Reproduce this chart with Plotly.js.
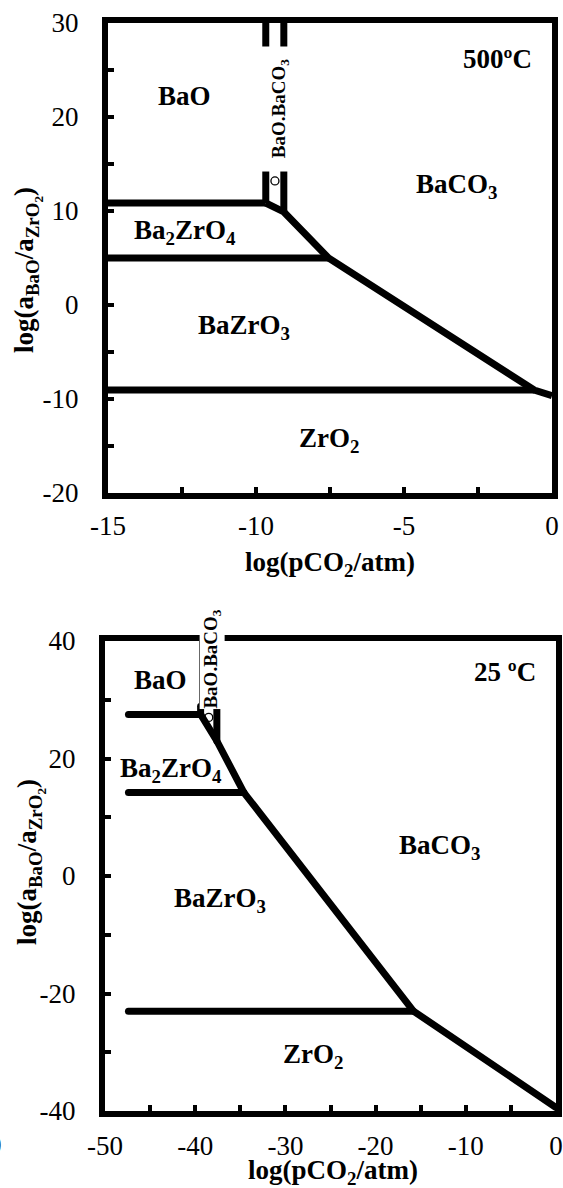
<!DOCTYPE html>
<html>
<head>
<meta charset="utf-8">
<script src="https://cdn.plot.ly/plotly-3.0.1.min.js"></script>
<style>
html,body{margin:0;padding:0;background:#fff}
/* rounded ends on the 25 °C boundary lines */
#chart .subplot.x2y2 .js-line{stroke-linecap:round !important}
</style>
</head>
<body>
<div id="chart" style="width:563px;height:1188px"></div>
<script>
// ----- 500 °C stability diagram: x = log(pCO2/atm), y = log(aBaO/aZrO2) -----
const hotBaOBa2ZrO4X = [-15, -9.67];
const hotBaOBa2ZrO4Y = [10.85, 10.85];
const hotCarbonateX = [-9.67, -9.06, -7.55, -0.6, 0];
const hotCarbonateY = [10.85, 9.9, 5.0, -9.05, -9.65];
const hotBa2ZrO4BaZrO3X = [-15, -7.55];
const hotBa2ZrO4BaZrO3Y = [5, 5];
const hotBaZrO3ZrO2X = [-15, -0.6];
const hotBaZrO3ZrO2Y = [-9.05, -9.05];
const hotDoubleSaltLeftX = [-9.67, -9.67, null, -9.67, -9.67];
const hotDoubleSaltLeftY = [30, 27.5, null, 14.2, 10.85];
const hotDoubleSaltRightX = [-9.06, -9.06, null, -9.06, -9.06];
const hotDoubleSaltRightY = [30, 27.5, null, 14.2, 9.9];
const hotPointX = [-9.36];
const hotPointY = [13.2];

const hotLabels = ['BaO', 'Ba<sub>2</sub>ZrO<sub>4</sub>', 'BaZrO<sub>3</sub>', 'ZrO<sub>2</sub>', 'BaCO<sub>3</sub>'];
const hotLabelX = [-12.4, -12.4, -10.4, -7.55, -3.24];
const hotLabelY = [22.2, 7.75, -2.3, -14.4, 12.7];
const hotTemperature = '500ºC';

const hotXTickVals = [-15, -10, -5, 0];
const hotXTickText = ['-15', '-10', '-5', '0'];
const hotXMinorTicks = [-12.5, -7.5, -2.5];
const hotYTickVals = [-20, -10, 0, 10, 20, 30];
const hotYTickText = ['-20', '-10', '0', '10', '20', '30'];
const hotYMinorTicks = [-15, -5, 5, 15, 25];

// ----- 25 °C stability diagram -----
const coldBaOBa2ZrO4X = [-47.4, -39.4];
const coldBaOBa2ZrO4Y = [27.5, 27.5];
const coldCarbonateX = [-39.4, -37.6, -34.6, -15.8, 0];
const coldCarbonateY = [27.5, 23.0, 14.2, -23.0, -39.4];
const coldBa2ZrO4BaZrO3X = [-47.4, -34.6];
const coldBa2ZrO4BaZrO3Y = [14.2, 14.2];
const coldBaZrO3ZrO2X = [-47.4, -15.8];
const coldBaZrO3ZrO2Y = [-23, -23];
const coldDoubleSaltLeftX = [-39.4, -39.4];
const coldDoubleSaltLeftY = [28.9, 27.5];
const coldDoubleSaltRightX = [-37.6, -37.6];
const coldDoubleSaltRightY = [28.9, 23.0];
const coldBaOEdgeX = [-39.5, -39.5];
const coldBaOEdgeY = [40, 28.9];
const coldPointX = [-38.5];
const coldPointY = [27.0];

const coldLabels = ['BaO', 'Ba<sub>2</sub>ZrO<sub>4</sub>', 'BaZrO<sub>3</sub>', 'ZrO<sub>2</sub>', 'BaCO<sub>3</sub>'];
const coldLabelX = [-43.8, -42.7, -37.25, -26.9, -12.9];
const coldLabelY = [33.3, 18.0, -4.0, -30.7, 5.0];
const coldTemperature = '25 ºC';

const coldXTickVals = [-50, -40, -30, -20, -10, 0];
const coldXTickText = ['-50', '-40', '-30', '-20', '-10', '0'];
const coldXMinorTicks = [-45, -35, -25, -15, -5];
const coldYTickVals = [-40, -20, 0, 20, 40];
const coldYTickText = ['-40', '-20', '0', '20', '40'];
const coldYMinorTicks = [-30, -10, 10, 30];

const doubleSalt = 'BaO.BaCO<sub>3</sub>';
const xTitle = 'log(pCO<sub>2</sub>/atm)';
const yTitle = 'log(a<sub>BaO</sub>/a<sub>ZrO<sub>2</sub></sub>)';

// ----- drawing -----
const W = 563, H = 1188;
const SERIF = 'Liberation Serif, Times New Roman, serif';
const px2paperX = p => p / W;
const px2paperY = p => 1 - p / H;

function boundary(x, y, xa, ya, width) {
  return {x: x, y: y, xaxis: xa, yaxis: ya, type: 'scatter', mode: 'lines',
          line: {color: '#000', width: width || 7}, hoverinfo: 'skip', connectgaps: false};
}
function point(x, y, xa, ya) {
  return {x: x, y: y, xaxis: xa, yaxis: ya, type: 'scatter', mode: 'markers',
          marker: {symbol: 'circle-open', size: 8, color: '#000', line: {width: 1.3, color: '#000'}},
          hoverinfo: 'skip'};
}

const traces = [
  boundary(hotBaOBa2ZrO4X, hotBaOBa2ZrO4Y, 'x', 'y'),
  boundary(hotCarbonateX, hotCarbonateY, 'x', 'y'),
  boundary(hotBa2ZrO4BaZrO3X, hotBa2ZrO4BaZrO3Y, 'x', 'y'),
  boundary(hotBaZrO3ZrO2X, hotBaZrO3ZrO2Y, 'x', 'y'),
  boundary(hotDoubleSaltLeftX, hotDoubleSaltLeftY, 'x', 'y'),
  boundary(hotDoubleSaltRightX, hotDoubleSaltRightY, 'x', 'y'),
  point(hotPointX, hotPointY, 'x', 'y'),
  boundary(coldBaOBa2ZrO4X, coldBaOBa2ZrO4Y, 'x2', 'y2'),
  boundary(coldCarbonateX, coldCarbonateY, 'x2', 'y2'),
  boundary(coldBa2ZrO4BaZrO3X, coldBa2ZrO4BaZrO3Y, 'x2', 'y2'),
  boundary(coldBaZrO3ZrO2X, coldBaZrO3ZrO2Y, 'x2', 'y2'),
  boundary(coldDoubleSaltLeftX, coldDoubleSaltLeftY, 'x2', 'y2'),
  boundary(coldDoubleSaltRightX, coldDoubleSaltRightY, 'x2', 'y2'),
  boundary(coldBaOEdgeX, coldBaOEdgeY, 'x2', 'y2', 1.3),
  point(coldPointX, coldPointY, 'x2', 'y2')
];

const tickFont = {family: SERIF, size: 27, color: '#000'};
function axis(range, vals, text, minorVals, domain, anchor, standoff) {
  return {
    range: range, domain: domain, anchor: anchor,
    tickmode: 'array', tickvals: vals, ticktext: text,
    showgrid: false, zeroline: false, showline: true, mirror: true,
    linecolor: '#000', linewidth: 6,
    ticks: 'inside', ticklen: 6, tickwidth: 4, tickcolor: '#000',
    ticklabelstandoff: standoff,
    minor: {tickmode: 'array', tickvals: minorVals, ticks: 'inside', ticklen: 6,
            tickwidth: 4, tickcolor: '#000', showgrid: false},
    tickfont: tickFont, fixedrange: true
  };
}

const annotations = [];
function label(text, x, y, xr, yr, opts) {
  annotations.push(Object.assign({
    text: text, x: x, y: y, xref: xr, yref: yr, showarrow: false,
    xanchor: 'center', yanchor: 'middle',
    font: {family: SERIF, size: 27, color: '#000', weight: 'bold'}
  }, opts || {}));
}
hotLabels.forEach((t, i) => label(t, hotLabelX[i], hotLabelY[i], 'x', 'y'));
coldLabels.forEach((t, i) => label(t, coldLabelX[i], coldLabelY[i], 'x2', 'y2'));
label(hotTemperature, -0.6, 26.2, 'x', 'y', {xanchor: 'right'});
label(coldTemperature, -2.0, 34.7, 'x2', 'y2', {xanchor: 'right'});
label(doubleSalt, -9.2, 20.9, 'x', 'y',
      {textangle: -90, font: {family: SERIF, size: 19, color: '#000', weight: 'bold'}});
label(doubleSalt, -38.1, 36.9, 'x2', 'y2',
      {textangle: -90, bgcolor: '#fff', borderpad: 0,
       font: {family: SERIF, size: 19, color: '#000', weight: 'bold'}});

// axis titles
const titleFont = {family: SERIF, size: 27, color: '#000', weight: 'bold'};
label(xTitle, px2paperX(330), px2paperY(564), 'paper', 'paper', {font: titleFont});
label(xTitle, px2paperX(333), px2paperY(1172), 'paper', 'paper', {font: titleFont});
label(yTitle, px2paperX(27), px2paperY(270), 'paper', 'paper', {font: titleFont, textangle: -90});
label(yTitle, px2paperX(30), px2paperY(862), 'paper', 'paper', {font: titleFont, textangle: -90});
// neighbouring panel's tick label, cut by the left edge
label('0', px2paperX(4), px2paperY(1145), 'paper', 'paper',
      {xanchor: 'right', font: {family: SERIF, size: 27, color: '#000'}});

const layout = {
  width: W, height: H,
  margin: {l: 0, r: 0, t: 0, b: 0},
  paper_bgcolor: '#fff', plot_bgcolor: '#fff',
  showlegend: false,
  font: {family: SERIF, color: '#000'},
  xaxis: axis([-15, 0], hotXTickVals, hotXTickText, hotXMinorTicks,
              [px2paperX(108), px2paperX(552)], 'y', 4),
  yaxis: axis([-20, 30], hotYTickVals, hotYTickText, hotYMinorTicks,
              [px2paperY(493), px2paperY(23)], 'x', 18),
  xaxis2: axis([-50, 0], coldXTickVals, coldXTickText, coldXMinorTicks,
               [px2paperX(105), px2paperX(556)], 'y2', 6),
  yaxis2: axis([-40, 40], coldYTickVals, coldYTickText, coldYMinorTicks,
               [px2paperY(1111), px2paperY(641)], 'x2', 18),
  annotations: annotations
};

Plotly.newPlot('chart', traces, layout, {displayModeBar: false, staticPlot: true});
</script>
</body>
</html>
